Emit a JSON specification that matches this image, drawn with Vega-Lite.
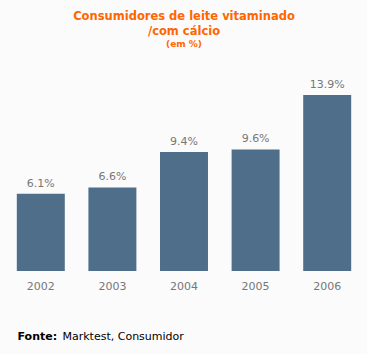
{
  "$schema": "https://vega.github.io/schema/vega-lite/v6.json",
  "autosize": "none",
  "width": 358,
  "height": 190,
  "padding": {"left": 5, "top": 81, "right": 4, "bottom": 83},
  "background": "#FBFBFB",
  "title": {
    "text": ["Consumidores de leite vitaminado", "/com cálcio"],
    "subtitle": "(em %)",
    "font": "DejaVu Sans",
    "fontSize": 11.5,
    "fontWeight": "bold",
    "color": "#FF6600",
    "lineHeight": 15,
    "subtitleFont": "DejaVu Sans",
    "subtitleFontSize": 9,
    "subtitleFontWeight": "bold",
    "subtitleColor": "#FF6600",
    "subtitlePadding": 2,
    "anchor": "middle",
    "offset": 30
  },
  "data": {
    "values": [
      {"year": "2002", "value": 6.1, "label": "6.1%"},
      {"year": "2003", "value": 6.6, "label": "6.6%"},
      {"year": "2004", "value": 9.4, "label": "9.4%"},
      {"year": "2005", "value": 9.6, "label": "9.6%"},
      {"year": "2006", "value": 13.9, "label": "13.9%"}
    ]
  },
  "encoding": {
    "x": {
      "field": "year",
      "type": "nominal",
      "scale": {"paddingInner": 0.33, "paddingOuter": 0.165},
      "axis": {
        "title": "Marktest, Consumidor",
        "titleFont": "DejaVu Sans",
        "titleFontSize": 11,
        "titleFontWeight": "normal",
        "titleColor": "#000000",
        "titleX": 57,
        "titleY": 68,
        "titleAlign": "left",
        "titleBaseline": "alphabetic",
        "labelAngle": 0,
        "labelFont": "DejaVu Sans",
        "labelFontSize": 11,
        "labelColor": "#777777",
        "labelPadding": 9,
        "ticks": false,
        "domain": false
      }
    },
    "y": {
      "field": "value",
      "type": "quantitative",
      "scale": {"domain": [0, 15]},
      "axis": {
        "title": "Fonte:",
        "titleFont": "DejaVu Sans",
        "titleFontSize": 11,
        "titleFontWeight": "bold",
        "titleColor": "#000000",
        "titleAngle": 0,
        "titleX": 12,
        "titleY": 258,
        "titleAlign": "left",
        "titleBaseline": "alphabetic",
        "labels": false,
        "ticks": false,
        "domain": false,
        "grid": false
      }
    }
  },
  "layer": [
    {"mark": {"type": "bar", "color": "#4E6E8A"}},
    {
      "mark": {"type": "text", "dy": -7, "baseline": "alphabetic", "font": "DejaVu Sans", "fontSize": 11, "color": "#777777"},
      "encoding": {"text": {"field": "label"}}
    }
  ],
  "config": {"view": {"stroke": null}}
}
